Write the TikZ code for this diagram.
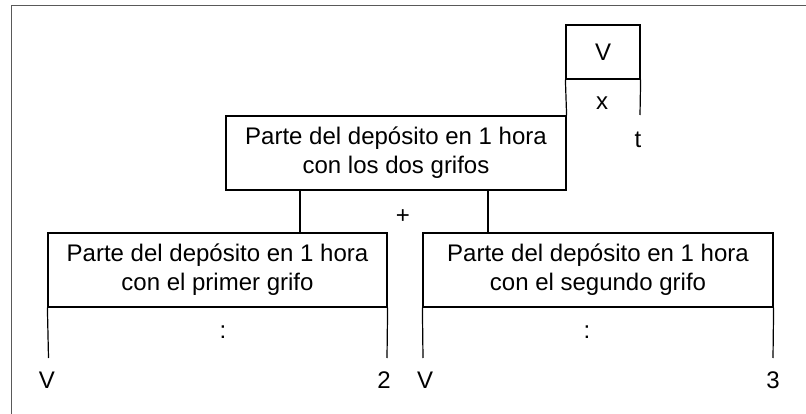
\documentclass[tikz,border=0pt]{standalone}
\usepackage{fontspec}
\setmainfont{Liberation Sans}
\begin{document}
\begin{tikzpicture}[x=1pt,y=-1pt,
  box/.style={draw, line width=1.2pt, inner sep=0pt, align=center, font=\fontsize{24}{29}\selectfont},
  lbl/.style={inner sep=0pt, font=\fontsize{24}{29}\selectfont},
  ln/.style={line width=1.2pt},
  frameline/.style={line width=1pt, draw=black!65}]
\useasboundingbox (0,0) rectangle (806,414);
\draw[frameline] (11,414) -- (11,6) -- (806,6);

% top part
\node[box, minimum width=340pt, minimum height=74pt] (top) at (396,153) {Parte del depósito en 1 hora\\con los dos grifos};
\node[box, minimum width=74pt, minimum height=54pt] (vbox) at (603,52) {V};
\coordinate (vre) at (640,115);
\draw[ln] (vbox.south west) -- (top.north east);
\draw[ln] (vbox.south east) -- (vre);
\node[lbl] (xl) at (602,103) {x};
\node[lbl] (tl) at (638,140) {t};

% bottom boxes
\node[box, minimum width=339pt, minimum height=74pt] (b1) at (217.5,270) {Parte del depósito en 1 hora\\con el primer grifo};
\node[box, minimum width=350pt, minimum height=74pt] (b2) at (598,270) {Parte del depósito en 1 hora\\con el segundo grifo};

% connectors
\coordinate (c1) at (300,0);
\coordinate (c2) at (488,0);
\draw[ln] (top.south -| c1) -- (b1.north -| c1);
\draw[ln] (top.south -| c2) -- (b2.north -| c2);
\node[lbl] (plus) at (403,217) {+};

% lower verticals
\coordinate (b1l) at (48.5,358);
\coordinate (b1r) at (387,358);
\coordinate (b2l) at (423,358);
\coordinate (b2r) at (773,358);
\draw[ln] (b1.south west) -- (b1l);
\draw[ln] (b1.south east) -- (b1r);
\draw[ln] (b2.south west) -- (b2l);
\draw[ln] (b2.south east) -- (b2r);
\node[lbl] (col1) at (223,332) {:};
\node[lbl] (col2) at (587,332) {:};
\node[lbl] (v1) at (47,380) {V};
\node[lbl] (n2) at (384,380) {2};
\node[lbl] (v2) at (425,380) {V};
\node[lbl] (n3) at (773,380) {3};
\end{tikzpicture}
\end{document}
